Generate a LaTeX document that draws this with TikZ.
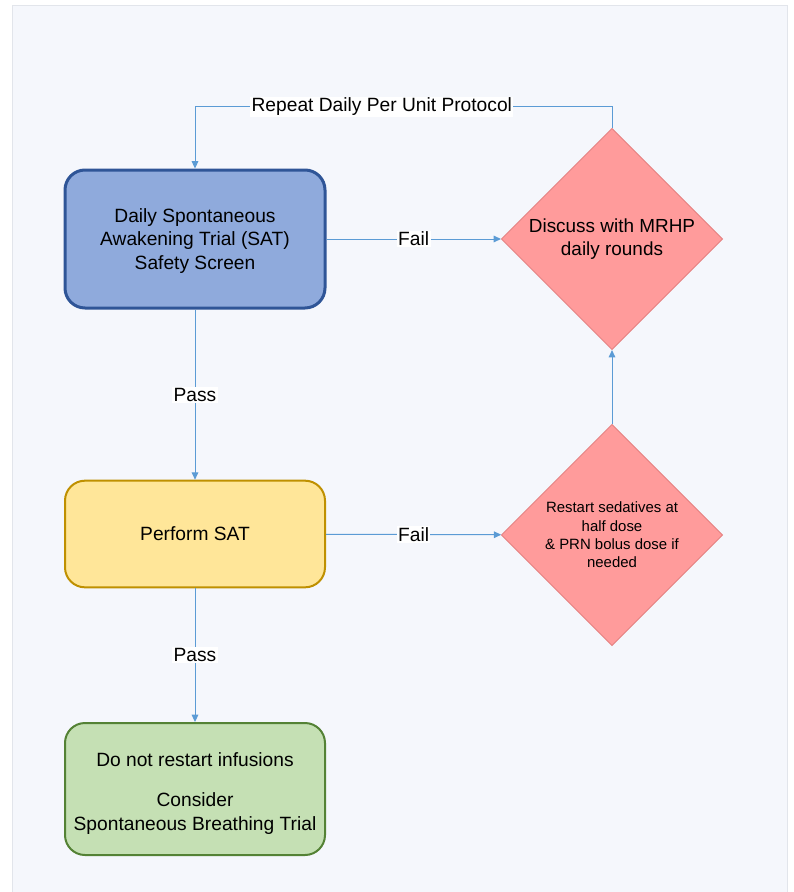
\documentclass[tikz,border=0pt]{standalone}
\usepackage{fontspec}
\setmainfont{Liberation Sans}
\usetikzlibrary{shapes.geometric,arrows.meta}

\definecolor{panelBg}{HTML}{F5F7FC}
\definecolor{panelEdge}{HTML}{E2E5EB}
\definecolor{satFill}{HTML}{8FAADC}
\definecolor{satEdge}{HTML}{2F5597}
\definecolor{perfFill}{HTML}{FFE699}
\definecolor{perfEdge}{HTML}{BF9000}
\definecolor{sbtFill}{HTML}{C5E0B4}
\definecolor{sbtEdge}{HTML}{548235}
\definecolor{decFill}{HTML}{FF9B9B}
\definecolor{decEdge}{HTML}{E58282}
\definecolor{flowLine}{HTML}{5B9BD5}

\tikzstyle{boxMain} = [rectangle,
                       rounded corners = 15pt,
                       minimum width = 195pt,
                       inner sep = 0pt,
                       align = center,
                       font = \fontsize{14.4}{17.5}\selectfont
                       ]
\tikzstyle{decMain} = [diamond,
                       aspect = 1,
                       minimum width = 166pt,
                       minimum height = 166pt,
                       inner sep = 0pt,
                       fill = decFill,
                       draw = decEdge,
                       line width = 0.6pt,
                       align = center
                       ]
\tikzstyle{flow} = [draw = flowLine,
                    line width = 0.75pt,
                    -{Triangle[length = 5.5pt, width = 5pt]}
                    ]
\tikzstyle{flowLabel} = [fill = white,
                         inner sep = 1pt,
                         font = \fontsize{14.4}{17.5}\selectfont
                         ]

\begin{document}
\begin{tikzpicture}[x = 0.75pt, y = -0.75pt]

    %%% Page
    \useasboundingbox (0, 0) rectangle (793, 892);
    \fill[white] (0, 0) rectangle (793, 892);
    \draw[panelEdge, fill = panelBg, line width = 0.75pt] (12, 6) rectangle (787, 900);

    %%% Left column
    % SAT screen %
    \node (SAT) at (195, 239) [boxMain, minimum height = 103.5pt,
        fill = satFill, draw = satEdge, line width = 2.25pt]
        {\rule{0pt}{13.3pt}Daily Spontaneous\\Awakening Trial (SAT)\\Safety Screen};

    % Perform SAT %
    \node (PSAT) at (195, 534) [boxMain, minimum height = 80pt,
        fill = perfFill, draw = perfEdge, line width = 1.5pt]
        {Perform SAT};

    % Do not restart %
    \node (SBT) at (195, 789) [boxMain, minimum height = 99pt,
        fill = sbtFill, draw = sbtEdge, line width = 1.5pt]
        {\rule{0pt}{16.5pt}Do not restart infusions\\[13pt]Consider\\Spontaneous Breathing Trial};

    %%% Right column
    % MRHP %
    \node (MRHP) at (612, 239) [decMain, font = \fontsize{14.2}{17.3}\selectfont]
        {Discuss with MRHP\\daily rounds};

    % Restart sedatives %
    \node (RS) at (612, 535) [decMain, font = \fontsize{11.2}{13.7}\selectfont]
        {Restart sedatives at\\half dose\\\& PRN bolus dose if\\needed};

    %%% Connectors
    \draw[flow] (SAT) -- node (F1) [flowLabel]{Fail} (MRHP);
    \draw[flow] (PSAT) -- node (F2) [flowLabel]{Fail} (RS);
    \draw[flow] (SAT) -- node (P1) [flowLabel]{Pass} (PSAT);
    \draw[flow] (PSAT) -- node (P2) [flowLabel]{Pass} (SBT);
    \draw[flow] (RS) -- (MRHP);

        % Repeat loop
        \draw[flow] (MRHP.north) -- ++(0, -21)
            -| node (RP) [flowLabel, pos = 0.276]{Repeat Daily Per Unit Protocol} (SAT.north);

\end{tikzpicture}
\end{document}
